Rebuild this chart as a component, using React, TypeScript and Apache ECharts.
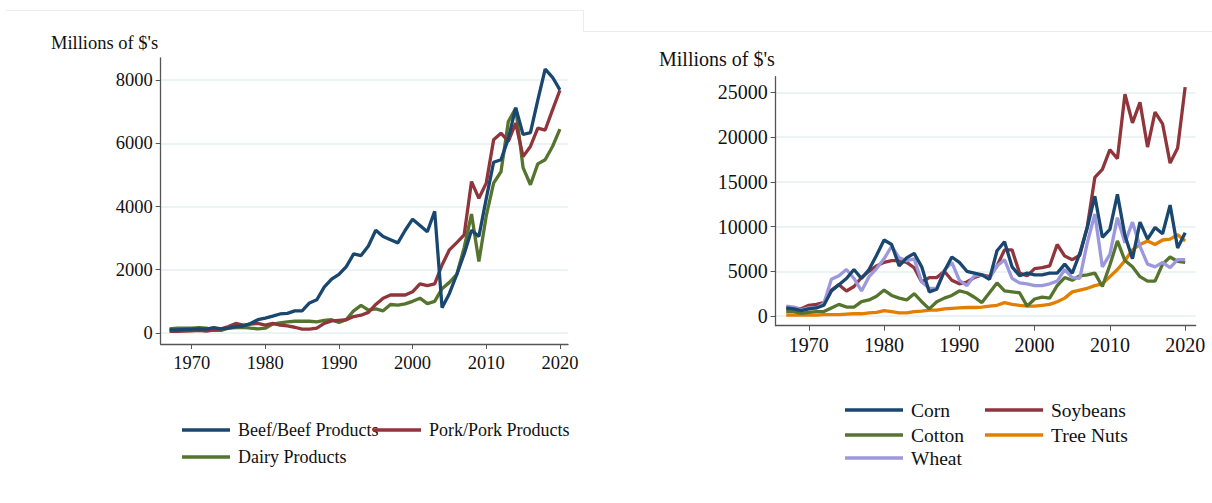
import React, { useEffect, useRef } from "react";
import * as echarts from "echarts";

const years: number[] = [];
for (let y = 1967; y <= 2020; y++) years.push(y);

// Left chart (livestock/dairy), millions of $
const beef = [100, 100, 110, 120, 130, 120, 170, 130, 150, 200, 220, 300, 420, 470, 530, 600, 620, 700, 700, 950, 1050, 1450, 1700, 1850, 2100, 2500, 2450, 2750, 3250, 3050, 2950, 2850, 3250, 3600, 3400, 3200, 3850, 800, 1250, 1850, 2500, 3250, 3050, 4250, 5400, 5480, 6150, 7130, 6280, 6340, 7370, 8350, 8090, 7690];
const pork = [50, 50, 60, 70, 80, 60, 100, 130, 200, 300, 250, 280, 300, 250, 300, 250, 220, 180, 120, 120, 150, 300, 380, 400, 420, 520, 560, 650, 900, 1100, 1200, 1200, 1200, 1300, 1550, 1500, 1550, 2150, 2630, 2860, 3100, 4790, 4260, 4740, 6110, 6320, 6060, 6640, 5580, 5900, 6480, 6420, 7060, 7680];
const dairy = [130, 150, 150, 150, 170, 150, 80, 80, 150, 170, 180, 150, 130, 150, 280, 320, 350, 370, 370, 370, 350, 400, 420, 330, 420, 700, 870, 720, 760, 700, 900, 880, 920, 1000, 1100, 930, 1000, 1400, 1600, 1850, 2700, 3760, 2260, 3700, 4740, 5100, 6690, 7110, 5230, 4690, 5350, 5480, 5900, 6450];

// Right chart (crops), millions of $
const corn = [900, 800, 600, 800, 900, 1200, 2800, 3500, 4200, 5200, 4200, 5200, 6800, 8500, 8000, 5600, 6500, 7000, 5500, 2700, 3000, 5000, 6600, 6000, 5000, 4800, 4600, 4100, 7300, 8300, 5500, 4500, 4800, 4600, 4600, 4800, 4800, 5800, 4800, 7000, 9900, 13400, 8800, 9700, 13600, 9000, 6400, 10500, 8600, 9900, 9200, 12400, 7600, 9300];
const soybeans = [800, 900, 800, 1200, 1300, 1500, 2900, 3500, 2800, 3300, 4300, 5000, 5600, 6000, 6200, 6200, 6000, 5400, 3800, 4300, 4300, 5000, 4000, 3600, 3800, 4300, 4600, 4400, 5600, 7400, 7400, 4800, 4500, 5300, 5400, 5600, 8000, 6700, 6300, 6800, 10000, 15500, 16400, 18600, 17600, 24800, 21600, 23900, 18900, 22800, 21500, 17100, 18800, 25600];
const cotton = [500, 500, 300, 400, 500, 500, 900, 1300, 1000, 1000, 1600, 1800, 2200, 2900, 2300, 2000, 1800, 2500, 1600, 800, 1600, 2000, 2300, 2800, 2600, 2100, 1500, 2600, 3700, 2800, 2700, 2600, 1100, 1900, 2100, 2000, 3400, 4300, 4000, 4500, 4600, 4800, 3300, 5700, 8400, 6200, 5500, 4400, 3900, 3900, 5800, 6600, 6100, 6000];
const treeNuts = [100, 100, 100, 100, 100, 150, 150, 150, 200, 250, 250, 350, 400, 600, 500, 350, 350, 500, 550, 650, 650, 800, 850, 900, 950, 950, 1000, 1100, 1200, 1500, 1300, 1200, 1100, 1100, 1200, 1300, 1600, 2000, 2700, 2900, 3100, 3400, 3600, 4400, 5200, 6200, 7400, 8000, 8400, 8000, 8500, 8600, 9100, 8400];
const wheat = [1100, 1000, 700, 900, 900, 1400, 4100, 4500, 5200, 4200, 2800, 4400, 5300, 6400, 7800, 6500, 6200, 6400, 3800, 3100, 3100, 5100, 6000, 4000, 3400, 4500, 4600, 4200, 5600, 6300, 4200, 3700, 3600, 3400, 3400, 3600, 3900, 5200, 4300, 4200, 8200, 11400, 5500, 6900, 11000, 8200, 10500, 7800, 5800, 5500, 6000, 5400, 6300, 6300];

const xTicks = [1970, 1980, 1990, 2000, 2010, 2020];
const yTicksLeft = [0, 2000, 4000, 6000, 8000];
const yTicksRight = [0, 5000, 10000, 15000, 20000, 25000];

const NAVY = "#1a476f";
const MAROON = "#90353b";
const GREEN = "#55752f";
const ORANGE = "#e37e00";
const LAVENDER = "#9c98de";
const FONT = "'Liberation Serif', 'Times New Roman', serif";

const pairs = (vals: number[]) => years.map((y, i) => [y, vals[i]]);

export default function App() {
  const ref = useRef<HTMLDivElement>(null);
  useEffect(() => {
    if (!ref.current) return;
    const chart = echarts.init(ref.current, undefined, { renderer: "svg" });

    const xAxisBase = (gridIndex: number, min: number, max: number, fs: number) => ({
      type: "value",
      gridIndex,
      min,
      max,
      axisLine: { show: true, onZero: false, lineStyle: { color: "#555", width: 1.3 } },
      axisTick: { show: true, length: 5, customValues: xTicks, lineStyle: { color: "#555" } },
      axisLabel: {
        customValues: xTicks,
        color: "#111",
        fontFamily: FONT,
        fontSize: fs,
        margin: 9,
        formatter: (v: number) => String(Math.round(v)),
      },
      splitLine: { show: false },
    });
    const yAxisBase = (gridIndex: number, min: number, max: number, ticks: number[], fs: number) => ({
      type: "value",
      gridIndex,
      min,
      max,
      axisLine: { show: true, lineStyle: { color: "#555", width: 1.3 } },
      axisTick: { show: true, length: 5, customValues: ticks, lineStyle: { color: "#555" } },
      axisLabel: {
        customValues: ticks,
        color: "#111",
        fontFamily: FONT,
        fontSize: fs,
        margin: 8,
        formatter: (v: number) => String(Math.round(v)),
      },
      splitLine: { show: true, lineStyle: { color: "#e6eff0", width: 1.5 } },
    });

    const line = (name: string, data: number[], color: string, idx: number) => ({
      name,
      type: "line",
      xAxisIndex: idx,
      yAxisIndex: idx,
      data: pairs(data),
      showSymbol: false,
      symbol: "none",
      lineStyle: { color, width: 3.3 },
      itemStyle: { color },
      z: 3,
    });

    const legendItem = (name: string, left: number, cy: number, fs: number, w: number) => ({
      data: [{ name, icon: "rect" }],
      left,
      top: cy - 10,
      padding: 0,
      itemWidth: w,
      itemHeight: 3.3,
      selectedMode: false,
      textStyle: { fontFamily: FONT, fontSize: fs, color: "#111", lineHeight: 20, padding: [0, 0, 0, 3] },
    });

    chart.setOption({
      animation: false,
      backgroundColor: "#ffffff",
      title: [
        { text: "Millions of $'s", left: 51, top: 33, padding: 0, textStyle: { fontFamily: FONT, fontSize: 18.5, fontWeight: "normal", color: "#111" } },
        { text: "Millions of $'s", left: 659, top: 49, padding: 0, textStyle: { fontFamily: FONT, fontSize: 20, fontWeight: "normal", color: "#111" } },
      ],
      grid: [
        { left: 160.7, top: 58, width: 407.3, height: 286 },
        { left: 775.7, top: 76.7, width: 420, height: 249 },
      ],
      xAxis: [xAxisBase(0, 1965.8, 2021.1, 18.5), xAxisBase(1, 1965.6, 2021.4, 20)],
      yAxis: [
        yAxisBase(0, -350, 8700, yTicksLeft, 18.5),
        yAxisBase(1, -1085, 26767, yTicksRight, 20),
      ],
      legend: [
        legendItem("Beef/Beef Products", 182, 430, 18, 48),
        legendItem("Pork/Pork Products", 373, 430, 18, 48),
        legendItem("Dairy Products", 182, 457, 18, 48),
        legendItem("Corn", 845, 410, 19.5, 58),
        legendItem("Soybeans", 985, 410, 19.5, 58),
        legendItem("Cotton", 845, 435, 19.5, 58),
        legendItem("Tree Nuts", 985, 435, 19.5, 58),
        legendItem("Wheat", 845, 458, 19.5, 58),
      ],
      graphic: [
        { type: "line", shape: { x1: 6, y1: 10.5, x2: 583, y2: 10.5 }, style: { stroke: "#ececec", lineWidth: 1 } },
        { type: "line", shape: { x1: 583.5, y1: 10, x2: 583.5, y2: 31 }, style: { stroke: "#ececec", lineWidth: 1 } },
        { type: "line", shape: { x1: 583, y1: 31.5, x2: 1212, y2: 31.5 }, style: { stroke: "#ececec", lineWidth: 1 } },
      ],
      series: [
        line("Dairy Products", dairy, GREEN, 0),
        line("Pork/Pork Products", pork, MAROON, 0),
        line("Beef/Beef Products", beef, NAVY, 0),
        line("Tree Nuts", treeNuts, ORANGE, 1),
        line("Cotton", cotton, GREEN, 1),
        line("Soybeans", soybeans, MAROON, 1),
        line("Wheat", wheat, LAVENDER, 1),
        line("Corn", corn, NAVY, 1),
      ],
    });
    return () => chart.dispose();
  }, []);
  return (
    <div
      ref={ref}
      style={{ position: "fixed", left: 0, top: 0, width: 1212, height: 503, background: "#fff" }}
    />
  );
}
